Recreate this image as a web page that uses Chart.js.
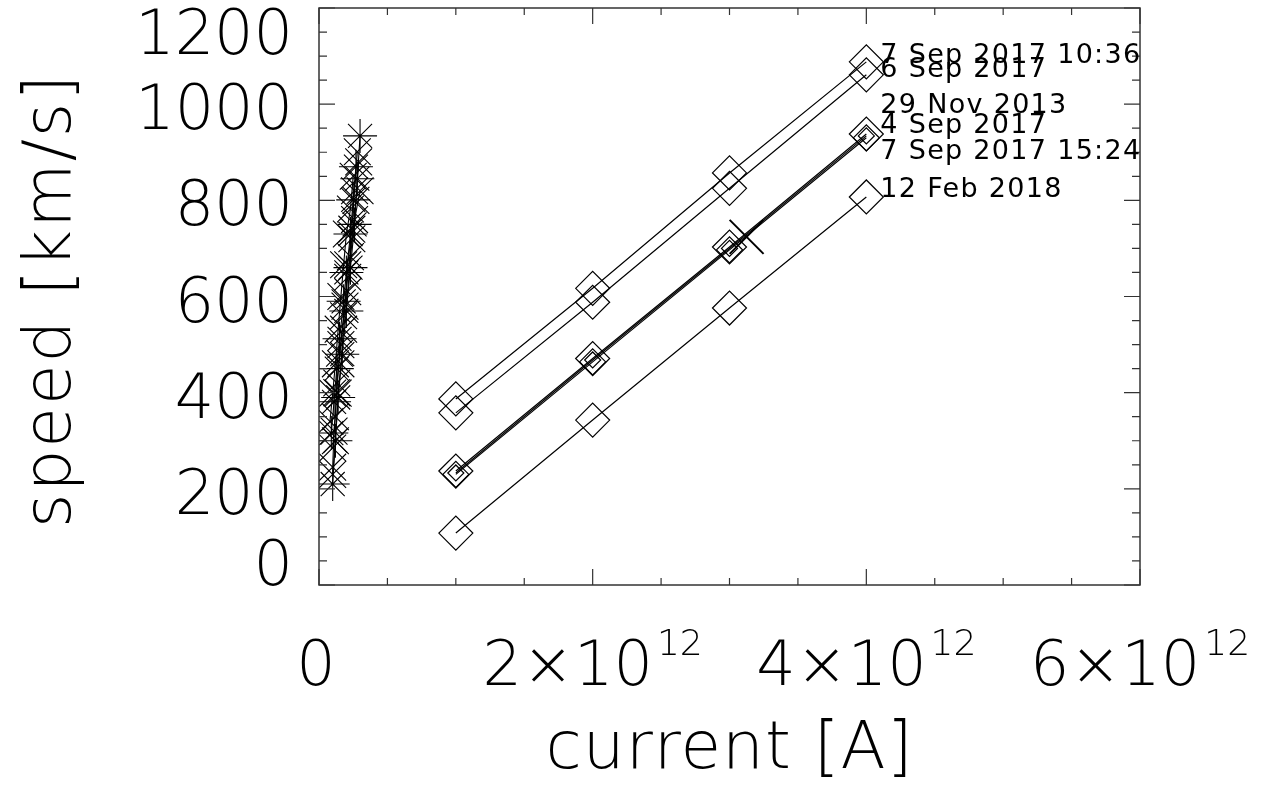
<!DOCTYPE html>
<html>
<head>
<meta charset="utf-8">
<script src="https://cdn.jsdelivr.net/npm/chart.js@4.4.0/dist/chart.umd.min.js"></script>
<style>
  html, body { margin:0; padding:0; background:#fff; overflow:hidden; }
  #wrap { width:1262px; height:786px; }
</style>
</head>
<body>
<div id="wrap"><canvas id="chart" width="1262" height="786"></canvas></div>
<script>
/* speed vs current — model lines (diamonds) + observed cluster (stars / crosses) */

// model currents used for the diamond lines
const CURRENTS = [1e12, 2e12, 3e12, 4e12];
const EVENTS = ["7 Sep 2017 10:36", "6 Sep 2017", "29 Nov 2013", "4 Sep 2017", "7 Sep 2017 15:24", "12 Feb 2018"];
const SPEED_0907A = [387, 617, 857, 1088];
const SPEED_0906  = [358, 588, 825, 1061];
const SPEED_1129  = [233, 468, 700, 934];
const SPEED_0904  = [237, 471, 703, 938];
const SPEED_0907B = [230, 464, 697, 930];
const SPEED_0212  = [108, 343, 576, 807];

// observed cluster near zero current
const CL_A_X = [0.10e12, 0.12e12, 0.14e12, 0.17e12, 0.20e12, 0.23e12, 0.26e12, 0.28e12, 0.30e12];
const CL_A_Y = [210, 300, 390, 480, 570, 660, 750, 845, 934];
const CL_B_X = [0.10e12, 0.11e12, 0.13e12, 0.15e12, 0.18e12, 0.21e12, 0.24e12, 0.27e12, 0.29e12];
const CL_B_Y = [245, 320, 400, 482, 560, 640, 720, 800, 880];
const CL_C_X = [0.10e12, 0.12e12, 0.13e12, 0.16e12, 0.19e12, 0.21e12, 0.24e12, 0.26e12, 0.28e12];
const CL_C_Y = [285, 350, 420, 500, 580, 666, 740, 820, 901];
const CL_D_X = [0.09e12, 0.11e12, 0.13e12, 0.15e12, 0.18e12, 0.20e12, 0.23e12, 0.25e12, 0.27e12];
const CL_D_Y = [316, 381, 450, 512, 590, 650, 730, 801, 870];
const CL_E_X = [0.10e12, 0.12e12, 0.14e12, 0.16e12, 0.18e12, 0.21e12, 0.23e12, 0.26e12, 0.30e12];
const CL_E_Y = [230, 300, 399, 460, 532, 610, 683, 760, 820];
const CL_F_X = [0.08e12, 0.10e12, 0.12e12, 0.14e12, 0.16e12, 0.18e12, 0.20e12, 0.23e12, 0.25e12];
const CL_F_Y = [340, 399, 460, 532, 600, 666, 730, 782, 850];

// single marked point
const MARK_X = [3.125e12];
const MARK_Y = [724];

// axis ticks
const X_TICKS = [0, 2e12, 4e12, 6e12];
const X_TICK_TEXT = ["0", "2\u00d710", "4\u00d710", "6\u00d710"];
const X_TICK_EXP = ["", "12", "12", "12"];
const Y_TICKS = [0, 200, 400, 600, 800, 1000, 1200];
const Y_TICK_TEXT = ["0", "200", "400", "600", "800", "1000", "1200"];

// styles (kept apart from the data)
const DIAMOND_R = [17, 17, 8, 17, 13, 17];
const LABEL_DY = [1, 2, -23, -1, 21, 0];
const TICK_FONT = '200 62px "DejaVu Sans"';
const SUP_FONT = '200 36px "DejaVu Sans"';
const TITLE_FONT = '200 66px "DejaVu Sans"';
const LABEL_FONT = '27px "DejaVu Sans"';
const INK = "#000";

function pairs(xs, ys){ return xs.map((x, i) => ({x, y: ys[i]})); }

const diamondSets = [SPEED_0907A, SPEED_0906, SPEED_1129, SPEED_0904, SPEED_0907B, SPEED_0212].map((s, i) => ({
  label: EVENTS[i], data: pairs(CURRENTS, s), showLine: true,
  borderColor: INK, borderWidth: 1.2,
  pointStyle: "rectRot", pointRadius: DIAMOND_R[i], pointBorderWidth: 1.2,
  pointBorderColor: INK, pointBackgroundColor: "rgba(0,0,0,0)"
}));

const clusterDefs = [
  [CL_A_X, CL_A_Y, "star", 17], [CL_B_X, CL_B_Y, "crossRot", 19], [CL_C_X, CL_C_Y, "crossRot", 19],
  [CL_D_X, CL_D_Y, "star", 17], [CL_E_X, CL_E_Y, "crossRot", 19], [CL_F_X, CL_F_Y, "crossRot", 19]
];
const clusterSets = clusterDefs.map(([xs, ys, ps, r], i) => ({
  label: "obs " + i, data: pairs(xs, ys), showLine: true,
  borderColor: INK, borderWidth: 1.1,
  pointStyle: ps, pointRadius: r, pointBorderWidth: 1.1, pointBorderColor: INK
}));

const markSet = {
  label: "mark", data: pairs(MARK_X, MARK_Y), showLine: false,
  pointStyle: "crossRot", pointRadius: 24, pointBorderWidth: 2, pointBorderColor: INK
};

function near(v, list, eps){ return list.some(t => Math.abs(t - v) < eps); }

const framePlugin = {
  id: "frame",
  afterDatasetsDraw(chart){
    const ctx = chart.ctx, a = chart.chartArea;
    const xs = chart.scales.x, ys = chart.scales.y;
    ctx.save();
    ctx.strokeStyle = "#333"; ctx.lineWidth = 1.5;
    ctx.strokeRect(a.left, a.top, a.right - a.left, a.bottom - a.top);

    ctx.lineWidth = 1.2;
    ctx.beginPath();
    xs.ticks.forEach(t => {
      const px = xs.getPixelForValue(t.value);
      const len = near(t.value, X_TICKS, 1e9) ? 16 : 7;
      ctx.moveTo(px, a.bottom); ctx.lineTo(px, a.bottom - len);
      ctx.moveTo(px, a.top); ctx.lineTo(px, a.top + len);
    });
    ys.ticks.forEach(t => {
      const py = ys.getPixelForValue(t.value);
      const len = near(t.value, Y_TICKS, 1e-6) ? 16 : 8;
      ctx.moveTo(a.left, py); ctx.lineTo(a.left + len, py);
      ctx.moveTo(a.right, py); ctx.lineTo(a.right - len, py);
    });
    ctx.stroke();

    ctx.fillStyle = INK;
    // y tick labels, kept inside the frame height like the original
    ctx.font = TICK_FONT; ctx.textAlign = "right"; ctx.textBaseline = "alphabetic";
    Y_TICKS.forEach((v, i) => {
      let cy = ys.getPixelForValue(v) + 3;
      cy = Math.min(Math.max(cy, a.top + 24), a.bottom - 22);
      ctx.fillText(Y_TICK_TEXT[i], a.left - 26, cy + 22);
    });
    // x tick labels with exponent
    X_TICKS.forEach((v, i) => {
      const cx = xs.getPixelForValue(v) - (i === 0 ? 3 : 0);
      ctx.font = TICK_FONT; const w1 = ctx.measureText(X_TICK_TEXT[i]).width;
      ctx.font = SUP_FONT; const w2 = X_TICK_EXP[i] ? ctx.measureText(X_TICK_EXP[i]).width + 4 : 0;
      const left = cx - (w1 + w2) / 2;
      ctx.textAlign = "left";
      ctx.font = TICK_FONT; ctx.fillText(X_TICK_TEXT[i], left, 685);
      if (X_TICK_EXP[i]) { ctx.font = SUP_FONT; ctx.fillText(X_TICK_EXP[i], left + w1 + 4, 655); }
    });

    // axis titles
    ctx.font = TITLE_FONT; ctx.letterSpacing = "1px"; ctx.textAlign = "center";
    ctx.fillText("current [A]", (a.left + a.right) / 2, 768);
    ctx.save();
    ctx.translate(70, (a.top + a.bottom) / 2 + 4);
    ctx.rotate(-Math.PI / 2);
    ctx.letterSpacing = "2px";
    ctx.fillText("speed [km/s]", 0, 0);
    ctx.restore();

    // event names at the end of each model line
    ctx.font = LABEL_FONT; ctx.textAlign = "left"; ctx.letterSpacing = "1.3px";
    EVENTS.forEach((name, i) => {
      const pts = chart.getDatasetMeta(i).data;
      const p = pts[pts.length - 1];
      ctx.fillText(name, p.x + 14, p.y + LABEL_DY[i]);
    });
    ctx.letterSpacing = "0px";
    ctx.restore();
  }
};

new Chart(document.getElementById("chart"), {
  type: "scatter",
  data: { datasets: [...diamondSets, ...clusterSets, markSet] },
  options: {
    responsive: false, animation: false, devicePixelRatio: 1,
    layout: { autoPadding: false, padding: { left: 311, right: 122, top: 8, bottom: 193 } },
    plugins: { legend: { display: false }, tooltip: { enabled: false } },
    scales: {
      x: { type: "linear", min: 0, max: 6e12,
           ticks: { display: false, stepSize: 0.5e12 },
           grid: { display: false }, border: { display: false } },
      y: { type: "linear", min: 0, max: 1200,
           ticks: { display: false, stepSize: 50 },
           grid: { display: false }, border: { display: false } }
    }
  },
  plugins: [framePlugin]
});
</script>
</body>
</html>
